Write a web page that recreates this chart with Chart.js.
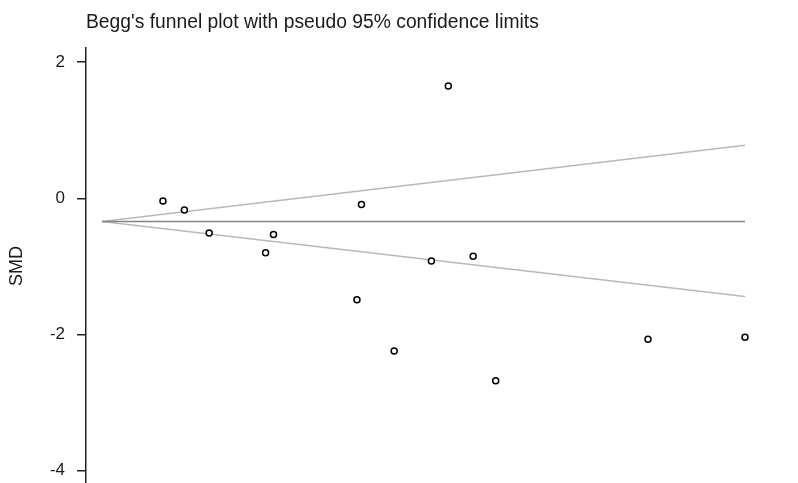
<!DOCTYPE html>
<html>
<head>
<meta charset="utf-8">
<script src="https://cdn.jsdelivr.net/npm/chart.js@4.4.0/dist/chart.umd.min.js"></script>
<style>
html, body { margin: 0; padding: 0; background: #fff; overflow: hidden; }
#wrap { width: 798px; height: 484px; }
</style>
</head>
<body>
<div id="wrap"><canvas id="funnel"></canvas></div>
<script>
// each study: standard error (x) and SMD (y)
var studySE  = [0.054, 0.073, 0.095, 0.145, 0.152, 0.226, 0.230, 0.259, 0.292, 0.307, 0.329, 0.349, 0.484, 0.570];
var studySMD = [-0.04, -0.17, -0.51, -0.80, -0.53, -1.49, -0.09, -2.24, -0.92, 1.65, -0.85, -2.68, -2.07, -2.04];

// pseudo 95% limits, ends of the lines
var limitSE    = [0, 0.57];
var pooledSMD  = [-0.34, -0.34];
var upperLimit = [-0.34, 0.78];
var lowerLimit = [-0.34, -1.44];

var yTicks = [-4, -2, 0, 2];

function pairs(xs, ys) {
    return xs.map(function (x, i) { return { x: x, y: ys[i] }; });
}

var ctx = document.getElementById("funnel").getContext("2d");
var chart = new Chart(ctx, {
    type: "scatter",
    data: {
        datasets: [{
            label: "studies",
            data: pairs(studySE, studySMD),
            pointRadius: 3,
            pointBorderWidth: 1.5,
            pointBorderColor: "#000",
            pointBackgroundColor: "#fff",
            order: 0
        }, {
            label: "pooled",
            type: "line",
            data: pairs(limitSE, pooledSMD),
            borderColor: "#858585",
            borderWidth: 1.5,
            pointRadius: 0,
            order: 1
        }, {
            label: "upper",
            type: "line",
            data: pairs(limitSE, upperLimit),
            borderColor: "#b8b8b8",
            borderWidth: 1.5,
            pointRadius: 0,
            order: 2
        }, {
            label: "lower",
            type: "line",
            data: pairs(limitSE, lowerLimit),
            borderColor: "#b8b8b8",
            borderWidth: 1.5,
            pointRadius: 0,
            order: 2
        }]
    },
    options: {
        responsive: true,
        maintainAspectRatio: false,
        animation: false,
        devicePixelRatio: 1,
        layout: { padding: 0, autoPadding: false },
        plugins: {
            legend: { display: false },
            tooltip: { enabled: false },
            title: {
                display: true,
                text: "Begg's funnel plot with pseudo 95% confidence limits",
                align: "start",
                fullSize: false,
                color: "#1a1a1a",
                font: { family: "'Liberation Sans', Arial, sans-serif", size: 19.3, weight: "normal" },
                padding: { top: 11, bottom: 14 }
            }
        },
        scales: {
            x: {
                type: "linear",
                display: false,
                min: -0.0142,
                max: 0.617
            },
            y: {
                type: "linear",
                min: -4.195,
                max: 2.206,
                afterBuildTicks: function (s) {
                    s.ticks = yTicks.map(function (v) { return { value: v }; });
                },
                afterFit: function (s) {
                    s.width = 86;
                    s.paddingTop = 0;
                    s.paddingBottom = 0;
                },
                title: {
                    display: true,
                    text: "SMD",
                    color: "#1a1a1a",
                    font: { family: "'Liberation Sans', Arial, sans-serif", size: 18 },
                    padding: { top: 6, bottom: 0 }
                },
                ticks: {
                    color: "#1a1a1a",
                    padding: 12,
                    font: { family: "'Liberation Sans', Arial, sans-serif", size: 17 }
                },
                grid: {
                    drawOnChartArea: false,
                    drawTicks: true,
                    tickLength: 9,
                    color: "#222",
                    lineWidth: 1.5
                },
                border: { color: "#222", width: 1.5 }
            }
        }
    }
});
</script>
</body>
</html>
